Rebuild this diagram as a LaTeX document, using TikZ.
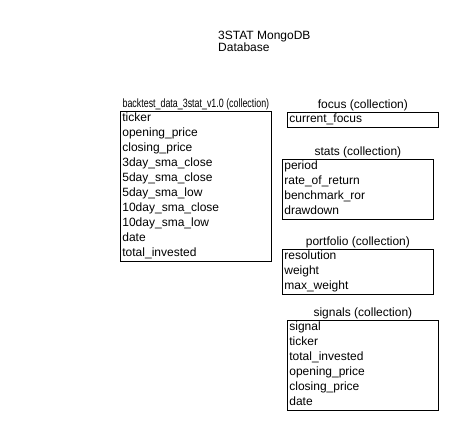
\documentclass[tikz,border=0pt]{standalone}
\usepackage{fontspec}
\setmainfont{Liberation Sans}
\usepackage{graphicx}
\usetikzlibrary{positioning}
\setlength{\parindent}{0pt}

\tikzset{
  coll/.style={draw, line width=0.8pt, anchor=north west, inner xsep=2pt, inner ysep=0pt,
    text width=147pt, align=left, font=\fontsize{12}{15}\selectfont},
  colltitle/.style={inner sep=0.5pt, font=\fontsize{12}{15}\selectfont}
}

\begin{document}
\begin{tikzpicture}[x=1pt,y=-1pt]

      \useasboundingbox (0,0) rectangle (464,435);

      \node[align=left, anchor=north west, inner sep=0pt, font=\fontsize{12}{12}\selectfont] (db) at (218,30.7) {3STAT MongoDB\\Database};

      \begin{scope}[every node/.style={coll}]
        \node (bt)  at (120,111) {\begin{tabular}{@{}l@{}}ticker\\opening\_price\\closing\_price\\3day\_sma\_close\\5day\_sma\_close\\5day\_sma\_low\\10day\_sma\_close\\10day\_sma\_low\\date\\total\_invested\end{tabular}};
        \node (fc)  at (287,112) {\begin{tabular}{@{}l@{}}current\_focus\end{tabular}};
        \node (st)  at (282,159) {\begin{tabular}{@{}l@{}}period\\rate\_of\_return\\benchmark\_ror\\drawdown\end{tabular}};
        \node (pf)  at (282,249) {\begin{tabular}{@{}l@{}}resolution\\weight\\max\_weight\end{tabular}};
        \node (sg)  at (287,320) {\begin{tabular}{@{}l@{}}signal\\ticker\\total\_invested\\opening\_price\\closing\_price\\date\end{tabular}};
      \end{scope}

      \begin{scope}[every node/.style={colltitle}]
        \node[above=0pt of bt] (btt) {\scalebox{0.74}[1]{backtest\_data\_3stat\_v1.0 (collection)}};
        \node[above=0pt of fc] (fct) {focus (collection)};
        \node[above=0pt of st] (stt) {stats (collection)};
        \node[above=0pt of pf] (pft) {portfolio (collection)};
        \node[above=0pt of sg] (sgt) {signals (collection)};
      \end{scope}

    \end{tikzpicture}
\end{document}
